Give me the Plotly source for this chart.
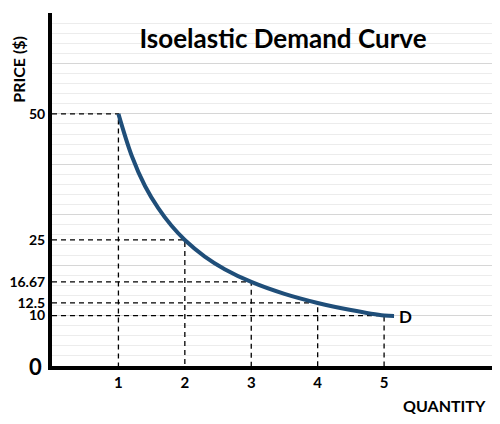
import plotly.graph_objects as go

# points marked on the demand curve
quantity = [1, 2, 3, 4, 5]
price = [50, 25, 16.67, 12.5, 10]
price_labels = ["50", "25", "16.67", "12.5", "10"]

# demand curve
curve_q = [1, 1.2, 1.4, 1.6, 1.8, 2, 2.3, 2.6, 3, 3.5, 4, 4.5, 5, 5.15]
curve_p = [50, 41.7, 35.7, 31.3, 27.8, 25, 21.7, 19.2, 16.67, 14.3, 12.5, 11.1, 10, 9.9]

FONT = "Lato"

fig = go.Figure()

# grid on an overlaid axis so the price ticks can sit at odd values
fig.add_trace(go.Scatter(x=[], y=[], yaxis="y2", showlegend=False))

# dashed guides to both axes
for q, p in zip(quantity, price):
    fig.add_trace(go.Scatter(
        x=[0, q, q],
        y=[p, p, 0],
        mode="lines",
        line=dict(color="black", width=1.3, dash="5px,4px"),
        hoverinfo="skip",
        showlegend=False
    ))

fig.add_trace(go.Scatter(
    x=curve_q,
    y=curve_p,
    mode="lines",
    line=dict(color="#1f4e79", width=4, shape="spline"),
    showlegend=False
))

fig.add_annotation(x=curve_q[-1], y=curve_p[-1], text="D", showarrow=False,
                   xanchor="left", yanchor="middle", xshift=3,
                   font=dict(family=FONT, size=17, color="black", weight="bold"))
fig.add_annotation(xref="paper", yref="y", x=-0.038, y=0, text="0", showarrow=False,
                   xanchor="center", yanchor="middle",
                   font=dict(family=FONT, size=22, color="black", weight="bold"))
fig.add_annotation(xref="paper", yref="paper", x=-0.076, y=0.84, text="PRICE ($)",
                   textangle=-90, showarrow=False, xanchor="center", yanchor="middle",
                   font=dict(family=FONT, size=16, color="black", weight="bold"))
fig.add_annotation(xref="paper", yref="paper", x=0.883, y=-0.113, text="QUANTITY",
                   showarrow=False, xanchor="center", yanchor="middle",
                   font=dict(family=FONT, size=16, color="black", weight="bold"))

# page body adds an 8px offset, margins allow for it
fig.update_layout(
    width=500,
    height=424,
    margin=dict(l=44, r=11, t=5, b=66),
    plot_bgcolor="white",
    paper_bgcolor="white",
    title=dict(text="Isoelastic Demand Curve", x=0.55, xanchor="center",
               y=0.926, yanchor="middle",
               font=dict(family=FONT, size=26, color="black", weight="bold")),
    xaxis=dict(range=[0, 6.7], tickvals=quantity, showgrid=False, zeroline=False,
               showline=True, linecolor="black", linewidth=4, ticks="",
               automargin=False,
               tickfont=dict(family=FONT, size=15, color="black", weight="bold")),
    yaxis=dict(range=[0, 70], tickvals=price, ticktext=price_labels,
               showgrid=False, zeroline=False, automargin=False,
               showline=True, linecolor="black", linewidth=4, ticks="",
               tickfont=dict(family=FONT, size=14, color="black", weight="bold")),
    yaxis2=dict(range=[0, 70], overlaying="y", dtick=10, showticklabels=False,
                automargin=False,
                showgrid=True, gridcolor="#d6d6d6", gridwidth=1.2, zeroline=False,
                minor=dict(dtick=2, showgrid=True, gridcolor="#ececec", gridwidth=1)),
)

fig.write_html("out.html")
